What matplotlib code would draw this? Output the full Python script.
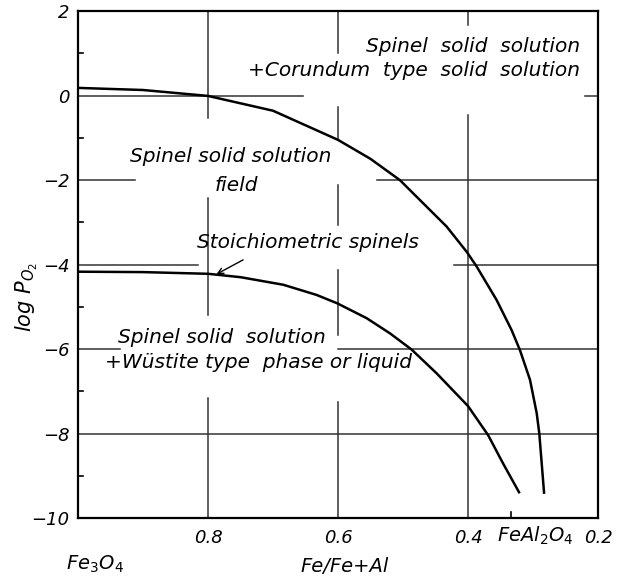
import matplotlib
matplotlib.use("Agg")
import matplotlib.pyplot as plt
from matplotlib.transforms import blended_transform_factory

# Phase boundaries in the Fe3O4 - FeAl2O4 spinel system
# upper boundary: spinel ss / spinel ss + corundum-type ss
upper_x = [1.0, 0.9, 0.8, 0.7, 0.6, 0.55, 0.505, 0.469, 0.433, 0.402, 0.387,
           0.356, 0.333, 0.320, 0.3046, 0.2943, 0.2903, 0.2866, 0.283]
upper_y = [0.18, 0.13, -0.01, -0.36, -1.05, -1.5, -2.0, -2.55, -3.1, -3.7,
           -4.04, -4.84, -5.55, -6.03, -6.73, -7.52, -8.0, -8.71, -9.40]

# lower boundary: stoichiometric spinels
lower_x = [1.0, 0.9, 0.8, 0.75, 0.684, 0.633, 0.601, 0.556, 0.52, 0.487,
           0.448, 0.4, 0.369, 0.346, 0.3215]
lower_y = [-4.17, -4.18, -4.22, -4.30, -4.48, -4.72, -4.92, -5.27, -5.63,
           -6.01, -6.58, -7.35, -8.04, -8.71, -9.39]

x_ticks = [0.8, 0.6, 0.4, 0.2]
y_ticks = [2, 0, -2, -4, -6, -8, -10]
y_minor = [1, -1, -3, -5, -7, -9]
feal2o4_x = 1 / 3

plt.rcParams['font.family'] = ['DejaVu Sans']
plt.rcParams['mathtext.fontset'] = 'dejavusans'
plt.rcParams['mathtext.default'] = 'it'

fig = plt.figure(figsize=(6.25, 5.78), dpi=100)
ax = fig.add_axes([78 / 625, 1 - 518 / 578, 520 / 625, 507 / 578])
ax.set_xlim(1.0, 0.2)
ax.set_ylim(-10, 2)

for s in ax.spines.values():
    s.set_linewidth(1.6)
    s.set_color('black')

# hand-ruled grid, broken where the lettering sits
gc = '#333333'
glw = 1.1
h_segments = {
    0: [(1.0, 0.654), (0.22, 0.2)],
    -2: [(1.0, 0.912), (0.54, 0.2)],
    -4: [(1.0, 0.815), (0.422, 0.2)],
    -6: [(1.0, 0.935), (0.6, 0.2)],
    -8: [(1.0, 0.2)],
}
for yv, segs in h_segments.items():
    for a, b in segs:
        ax.plot([a, b], [yv, yv], color=gc, lw=glw, zorder=1)

v_segments = {
    0.8: [(2, -0.54), (-2.43, -5.2), (-7.16, -10)],
    0.6: [(2, 1.0), (-0.27, -1.05), (-2.12, -3.07), (-4.13, -5.67), (-7.25, -10)],
    0.4: [(2, 1.67), (-0.46, -10)],
}
for xv, segs in v_segments.items():
    for a, b in segs:
        ax.plot([xv, xv], [a, b], color=gc, lw=glw, zorder=1)

# boundary curves
ax.plot(upper_x, upper_y, color='black', lw=1.8, zorder=3,
        solid_joinstyle='round')
ax.plot(lower_x, lower_y, color='black', lw=1.8, zorder=3,
        solid_joinstyle='round')

# ticks
ax.set_xticks(x_ticks)
ax.set_xticklabels([f"{v:.1f}" for v in x_ticks], fontsize=13, style='italic')
ax.set_yticks(y_ticks)
ax.set_yticklabels([str(v).replace('-', '\u2212') for v in y_ticks],
                   fontsize=13, style='italic')
ax.tick_params(axis='both', length=0, pad=6)
ax.tick_params(axis='x', pad=8)
for yv in y_minor:
    ax.plot([1.0, 0.993], [yv, yv], color='black', lw=1.2, zorder=2)
ax.plot([feal2o4_x, feal2o4_x], [-10, -9.85], color='black', lw=1.2, zorder=2)

tf = blended_transform_factory(ax.transData, fig.transFigure)
ax.text(0.297, 1 - 536 / 578, r'FeAl$_2$O$_4$', transform=tf, fontsize=14,
        style='italic', ha='center', va='center')
fig.text(95 / 625, 1 - 564 / 578, r'Fe$_3$O$_4$', fontsize=14,
         style='italic', ha='center', va='center')
fig.text(345 / 625, 1 - 567 / 578, 'Fe/Fe+Al', fontsize=14,
         style='italic', ha='center', va='center')
fig.text(27 / 625, 1 - 297 / 578, r'log $P_{O_2}$', fontsize=15,
         style='italic', rotation=90, ha='center', va='center')

# field labels
fs = 14.5
ax.text(0.228, 1.15, 'Spinel  solid  solution', fontsize=fs, style='italic',
        ha='right', va='center')
ax.text(0.228, 0.6, '+Corundum  type  solid  solution', fontsize=fs,
        style='italic', ha='right', va='center')
ax.text(0.92, -1.45, 'Spinel solid solution', fontsize=fs, style='italic',
        ha='left', va='center')
ax.text(0.757, -2.12, 'field', fontsize=fs, style='italic',
        ha='center', va='center')
ax.text(0.817, -3.49, 'Stoichiometric spinels', fontsize=fs, style='italic',
        ha='left', va='center')
ax.text(0.938, -5.72, 'Spinel solid  solution', fontsize=fs, style='italic',
        ha='left', va='center')
ax.text(0.958, -6.31, '+W\u00fcstite type  phase or liquid', fontsize=fs,
        style='italic', ha='left', va='center')

ax.annotate('', xy=(0.787, -4.23), xytext=(0.746, -3.89),
            arrowprops=dict(arrowstyle='->', color='black', lw=1.0,
                            shrinkA=0, shrinkB=0), zorder=4)

fig.savefig('out.png', dpi=100, facecolor='white')
